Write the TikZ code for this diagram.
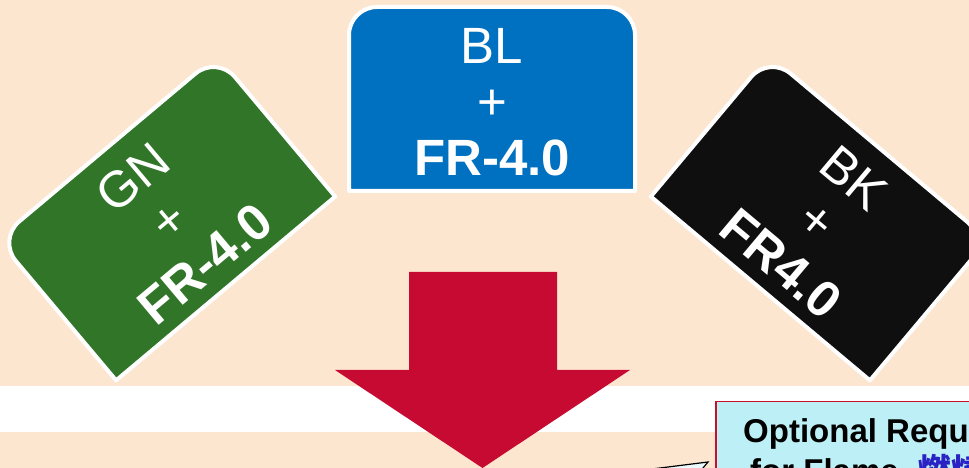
\documentclass[tikz,border=0pt]{standalone}
\usepackage{fontspec}
\setmainfont{Liberation Sans}
\newfontfamily\cjk{Noto Sans CJK TC}
\usetikzlibrary{positioning}

\definecolor{peach}{RGB}{253,230,208}
\definecolor{tabblue}{RGB}{0,112,192}
\definecolor{tabgreen}{RGB}{49,117,41}
\definecolor{tabblack}{RGB}{15,15,15}
\definecolor{arrowred}{RGB}{198,10,49}
\definecolor{notecyan}{RGB}{189,240,246}
\definecolor{notered}{RGB}{200,16,46}
\definecolor{cjkblue}{RGB}{43,34,196}

\begin{document}
\begin{tikzpicture}[x=1pt,y=1pt,
  tab/.style={rectangle,minimum width=286pt,minimum height=184pt,inner sep=0pt,outer sep=0pt},
  tabline/.style={draw=white,line width=4pt,line join=round},
  tabtext/.style={text=white,align=center,inner sep=0pt,font=\fontsize{51}{56}\selectfont},
  notetext/.style={inner sep=0pt,font=\bfseries\fontsize{33}{40}\selectfont}]

  \useasboundingbox (0,0) rectangle (969,468);
  \clip (0,0) rectangle (969,468);
  \fill[peach] (0,0) rectangle (969,468);
  \fill[white] (0,36) rectangle (969,82);

  % the three tabs
  \node[tab]			(GN) at (166.5,250) [rotate=40] {};
  \node[tab]			(BL) at (492,369) {};
  \node[tab]			(BK) at (819.5,250) [rotate=-40] {};

  \draw[tabline,fill=tabgreen] (GN.south west) [rounded corners=28pt] -- (GN.north west) -- (GN.north east) [sharp corners] -- (GN.south east) -- cycle;
  \draw[tabline,fill=tabblue] (BL.south west) [rounded corners=28pt] -- (BL.north west) -- (BL.north east) [sharp corners] -- (BL.south east) -- cycle;
  \draw[tabline,fill=tabblack] (BK.south west) [rounded corners=28pt] -- (BK.north west) -- (BK.north east) [sharp corners] -- (BK.south east) -- cycle;

  \node[tabtext,rotate=40]	(GNtext) at ([shift={(-50:3.5)}]GN.center) {GN\\+\\\textbf{FR-4.0}};
  \node[tabtext]		(BLtext) at ([yshift=-3.5pt]BL.center) {BL\\+\\\textbf{FR-4.0}};
  \node[tabtext,rotate=-40]	(BKtext) at ([shift={(-130:3.5)}]BK.center) {BK\\+\\\textbf{FR4.0}};

  % big arrow down
  \fill[arrowred] (409,196) -- (557,196) -- (557,98) -- (630,98) -- (482.5,0) -- (335,98) -- (409,98) -- cycle;

  % note box, cut by the border
  \node[draw=notered,fill=notecyan,line width=1.5pt,minimum width=290pt,minimum height=90pt,anchor=north west] (note) at (715,67) {};
  \node[notetext,anchor=base west]	(req1) at (743,25) {Optional Requirement};
  \node[notetext,anchor=base west]	(req2) at ([xshift=7pt,yshift=-40pt]req1.base west) {for Flame- {\cjk\color{cjkblue}燃燒}};

  \coordinate (tail) at (708,6);
  \draw[fill=white!70!notecyan,line width=1.2pt,line join=miter] (640,-2.5) -- (tail) -- (693,-12);

\end{tikzpicture}
\end{document}
